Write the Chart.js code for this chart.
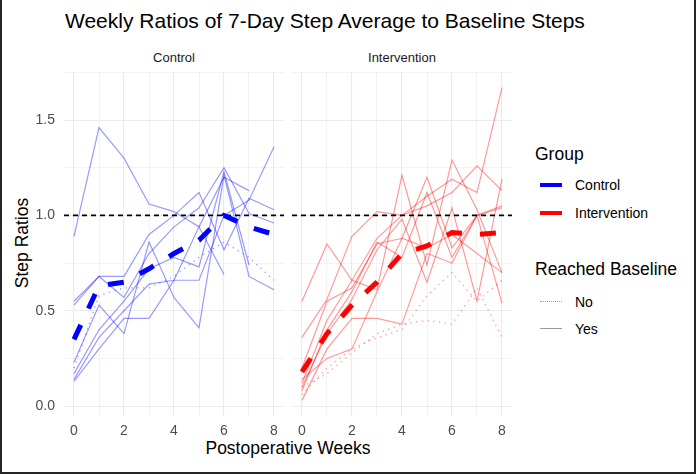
<!DOCTYPE html>
<html>
<head>
<meta charset="utf-8">
<script src="https://cdn.jsdelivr.net/npm/chart.js@4.4.0/dist/chart.umd.min.js"></script>
<style>
  body { margin: 0; background: #fff; font-family: "Liberation Sans", Arial, sans-serif; }
  #frame { position: absolute; left: 0; top: 0; width: 692px; height: 472px; border: 2px solid #262626; border-top: none; }
  .txt { position: absolute; white-space: nowrap; color: #000; }
  .box { position: absolute; }
  .key { position: absolute; width: 22px; height: 0; }
</style>
</head>
<body>
<div id="frame"></div>

<div class="txt" style="left:65px; top:9px; font-size:21px;">Weekly Ratios of 7-Day Step Average to Baseline Steps</div>
<div class="txt" style="left:64px; width:220px; top:50px; font-size:13px; text-align:center; color:#1a1a1a;">Control</div>
<div class="txt" style="left:292px; width:220px; top:50px; font-size:13px; text-align:center; color:#1a1a1a;">Intervention</div>
<div class="txt" style="left:64px; width:448px; top:438px; font-size:17.5px; text-align:center;">Postoperative Weeks</div>
<div class="txt" style="left:22px; top:243px; font-size:17.5px; transform:translate(-50%,-50%) rotate(-90deg);">Step Ratios</div>

<div class="txt" style="left:535px; top:144px; font-size:17.5px;">Group</div>
<div class="key" style="left:540px; top:183px; border-top:4px solid #0000ff;"></div>
<div class="txt" style="left:575px; top:177px; font-size:14px;">Control</div>
<div class="key" style="left:540px; top:211px; border-top:4px solid #ff0000;"></div>
<div class="txt" style="left:575px; top:205px; font-size:14px;">Intervention</div>

<div class="txt" style="left:535px; top:259px; font-size:17.5px;">Reached Baseline</div>
<div class="key" style="left:540px; top:301px; border-top:1.5px dotted #a0a0a0;"></div>
<div class="txt" style="left:575px; top:294px; font-size:14px;">No</div>
<div class="key" style="left:540px; top:328px; border-top:1.5px solid #999;"></div>
<div class="txt" style="left:575px; top:321px; font-size:14px;">Yes</div>

<div class="box" style="left:0px; top:62px;"><canvas id="left" width="284" height="380"></canvas></div>
<div class="box" style="left:292px; top:62px;"><canvas id="right" width="220" height="380"></canvas></div>

<script>
const weeks = [0, 1, 2, 3, 4, 5, 6, 7, 8];
const xTicks = [0, 1, 2, 3, 4, 5, 6, 7, 8];
const yTicks = [0, 0.25, 0.5, 0.75, 1, 1.25, 1.5, 1.75];
const baseline = 1.0;

// Control group, per patient ratios (null = no data that week)
const controlReached = [
  [0.89, 1.46, 1.30, 1.06, 1.02, 0.94, 1.20, 1.13, null],
  [0.55, 0.68, 0.68, 0.90, 1.00, 1.12, 0.82, 1.09, 1.03],
  [0.53, 0.68, 0.57, 0.80, 0.94, 1.04, 1.25, 1.01, 0.96],
  [0.17, 0.40, 0.55, 0.72, 0.78, 0.73, 1.23, 0.74, null],
  [0.23, 0.53, 0.38, 0.86, 0.57, 0.41, 1.21, 0.68, 0.61],
  [0.13, 0.30, 0.46, 0.46, 0.66, 0.66, 1.00, 1.08, 1.36],
  [0.14, 0.36, 0.50, 0.64, 0.66, 0.94, 0.69, null, null]
];
const controlNotReached = [
  [0.20, 0.58, 0.62, 0.62, 0.68, 0.78, 0.86, 0.78, 0.66]
];
const controlMean = [0.35, 0.63, 0.65, 0.72, 0.80, 0.87, 1.00, 0.94, 0.90];

// Intervention group
const interventionReached = [
  [0.55, 0.85, 0.66, 0.61, 1.21, 0.74, 1.29, 1.03, 0.70],
  [0.36, 0.56, 0.89, 1.02, 1.00, 1.05, 1.12, 1.26, 1.13],
  [0.20, 0.55, 0.62, 0.85, 0.88, 1.20, 0.83, 1.00, 1.05],
  [0.12, 0.45, 0.66, 0.88, 1.00, 1.10, 1.19, 1.12, 1.67],
  [0.10, 0.38, 0.56, 0.82, 0.98, 0.65, 1.04, 0.55, 1.19],
  [0.08, 0.40, 0.60, 0.86, 0.78, 1.12, 0.78, 1.00, 0.54],
  [0.03, 0.30, 0.46, 0.46, 0.43, 0.80, 0.75, 1.00, 1.04],
  [0.14, 0.25, 0.30, 0.60, 0.88, 0.83, 0.90, 0.80, 0.70]
];
const interventionNotReached = [
  [0.10, 0.17, 0.28, 0.38, 0.43, 0.45, 0.43, 0.62, 0.36],
  [0.06, 0.20, 0.30, 0.36, 0.40, 0.58, 0.70, 0.55, 0.66]
];
const interventionMean = [0.18, 0.38, 0.53, 0.65, 0.80, 0.84, 0.91, 0.90, 0.91];

const xMin = -0.4, xMax = 8.4;
const yMin = -0.052, yMax = 1.752;

function pts(vals) {
  let out = [];
  weeks.forEach((w, i) => { if (vals[i] !== null) out.push({ x: w, y: vals[i] }); });
  return out;
}

function buildSets(reached, notReached, mean, thin, bold) {
  let sets = [];
  reached.forEach(v => sets.push({
    data: pts(v), borderColor: thin, borderWidth: 1.2, pointRadius: 0, order: 3
  }));
  notReached.forEach(v => sets.push({
    data: pts(v), borderColor: thin, borderWidth: 1.3, borderDash: [1.3, 4.5], pointRadius: 0, order: 3
  }));
  sets.push({
    data: [{ x: xMin, y: baseline }, { x: xMax, y: baseline }],
    borderColor: '#000', borderWidth: 1.6, borderDash: [5, 4], pointRadius: 0, order: 2
  });
  sets.push({
    data: pts(mean), borderColor: bold, borderWidth: 5, borderDash: [16, 18], borderCapStyle: 'butt',
    pointRadius: 0, order: 1
  });
  return sets;
}

function gridWidth(ctx, majorStep) {
  if (!ctx.tick) return 0;
  let v = ctx.tick.value / majorStep;
  return Math.abs(v - Math.round(v)) < 1e-6 ? 1.1 : 0.6;
}

function makeChart(id, datasets, showY) {
  return new Chart(document.getElementById(id), {
    type: 'line',
    data: { datasets: datasets },
    options: {
      responsive: false,
      animation: false,
      events: [],
      layout: { padding: { top: 10, left: 0, right: 0, bottom: 0 } },
      plugins: { legend: { display: false }, tooltip: { enabled: false } },
      elements: { line: { tension: 0, fill: false } },
      scales: {
        x: {
          type: 'linear', min: xMin, max: xMax,
          afterBuildTicks: s => { s.ticks = xTicks.map(v => ({ value: v })); },
          afterFit: s => { s.height = 26; s.paddingLeft = 0; s.paddingRight = 0; },
          border: { display: false },
          grid: { color: '#EBEBEB', lineWidth: ctx => gridWidth(ctx, 2), drawTicks: false },
          ticks: {
            color: '#4D4D4D', font: { family: 'Liberation Sans', size: 14 }, padding: 7,
            maxRotation: 0, autoSkip: false,
            callback: v => (v % 2 === 0 ? String(v) : '')
          }
        },
        y: {
          type: 'linear', min: yMin, max: yMax,
          afterBuildTicks: s => { s.ticks = yTicks.map(v => ({ value: v })); },
          afterFit: s => { s.width = showY ? 64 : 0; s.paddingTop = 0; s.paddingBottom = 0; },
          border: { display: false },
          grid: { color: '#EBEBEB', lineWidth: ctx => gridWidth(ctx, 0.5), drawTicks: false },
          ticks: {
            display: showY,
            color: '#4D4D4D', font: { family: 'Liberation Sans', size: 14 }, padding: 9,
            autoSkip: false,
            callback: v => (Math.abs(v * 2 - Math.round(v * 2)) < 1e-6 ? v.toFixed(1) : '')
          }
        }
      }
    }
  });
}

makeChart('left', buildSets(controlReached, controlNotReached, controlMean, 'rgba(0,0,255,0.4)', '#0000FF'), true);
makeChart('right', buildSets(interventionReached, interventionNotReached, interventionMean, 'rgba(255,0,0,0.4)', '#FF0000'), false);
</script>
</body>
</html>
